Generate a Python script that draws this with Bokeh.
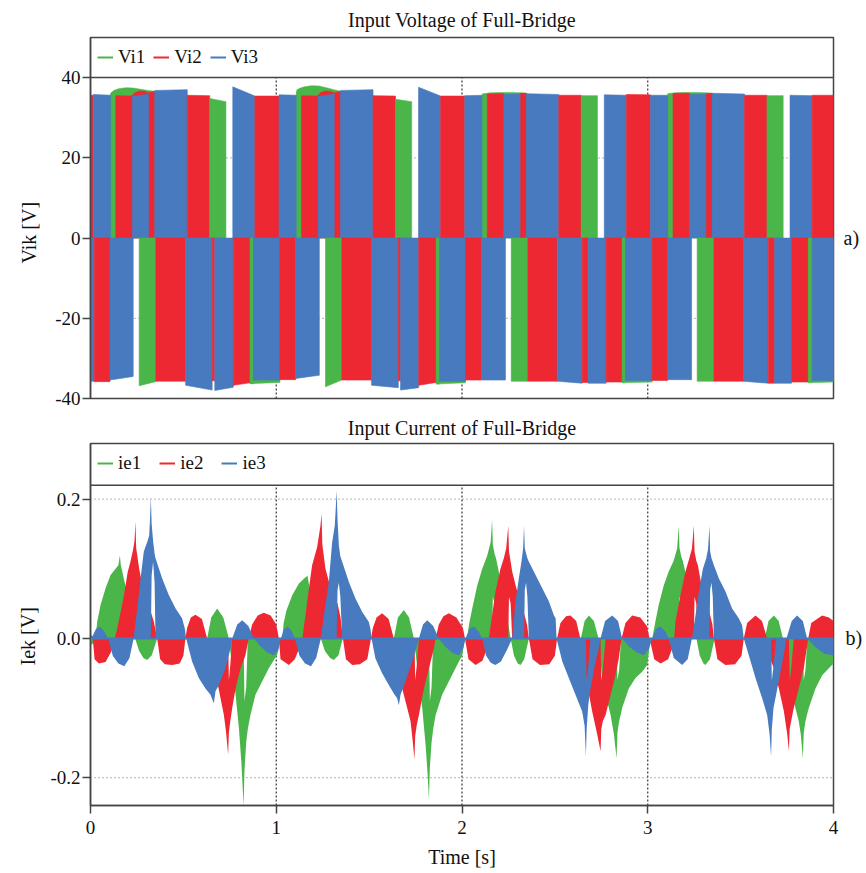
import numpy as np
from bokeh.plotting import figure
from bokeh.layouts import column
from bokeh.models import (Range1d, Span, Legend, LegendItem, FixedTicker, LinearAxis, Title,
                          NumeralTickFormatter, ColumnDataSource)
from bokeh.embed import file_html
from bokeh.resources import INLINE

FONT = "Liberation Serif"
AXIS_COLOR = "#444444"
TEXT_COLOR = "#111111"
SERIES_COLORS = {1: "#4AB649", 2: "#ED2833", 3: "#477ABE"}

# ---------------------------------------------------------------- axes
x_ticks = [0, 1, 2, 3, 4]
v_ticks = [-40, -20, 0, 20, 40]
i_ticks = [-0.2, 0.0, 0.2]
v_names = ["Vi1", "Vi2", "Vi3"]
i_names = ["ie1", "ie2", "ie3"]

# ---------------------------------------------------------------- panel a)
# Switching blocks of the full-bridge input voltages (series id 1..3),
# positive half: start, end, level at start, level at end
pos_t0 = [0.000, 0.015, 0.111, 0.136, 0.225, 0.316, 0.346, 0.521, 0.642, 0.766, 0.885,
          1.015, 1.111, 1.136, 1.225, 1.316, 1.346, 1.521, 1.642, 1.766, 1.885,
          2.015, 2.111, 2.136, 2.225, 2.316, 2.346, 2.521, 2.642, 2.766, 2.885,
          3.015, 3.111, 3.136, 3.225, 3.316, 3.346, 3.521, 3.642, 3.766, 3.885]
pos_t1 = [0.015, 0.111, 0.136, 0.225, 0.316, 0.346, 0.521, 0.642, 0.729, 0.885, 1.015,
          1.111, 1.136, 1.225, 1.316, 1.346, 1.521, 1.642, 1.729, 1.885, 2.015,
          2.111, 2.136, 2.225, 2.316, 2.346, 2.521, 2.642, 2.729, 2.885, 3.015,
          3.111, 3.136, 3.225, 3.316, 3.346, 3.521, 3.642, 3.729, 3.885, 4.000]
pos_series = [2, 3, 1, 2, 3, 2, 3, 2, 1, 3, 2,
              3, 1, 2, 3, 2, 3, 2, 1, 3, 2,
              3, 1, 2, 3, 2, 3, 2, 1, 3, 2,
              3, 1, 2, 3, 2, 3, 2, 1, 3, 2]
pos_v0 = [35.6, 35.8, 36.2, 35.5, 35.3, 36.3, 36.8, 35.6, 34.8, 37.7, 35.4,
          35.7, 37.0, 35.5, 35.3, 36.3, 36.8, 35.5, 34.6, 37.6, 35.4,
          35.5, 35.8, 35.9, 35.8, 36.1, 36.0, 35.6, 35.5, 35.7, 35.8,
          35.6, 35.9, 36.1, 35.8, 36.0, 36.1, 35.6, 35.5, 35.6, 35.6]
pos_v1 = [35.6, 35.6, 36.8, 35.4, 35.9, 36.6, 37.0, 35.5, 34.0, 35.4, 35.4,
          35.6, 37.4, 35.4, 35.9, 36.6, 37.0, 35.4, 34.0, 35.4, 35.4,
          35.6, 35.9, 36.0, 35.9, 36.1, 35.8, 35.6, 35.5, 35.6, 35.7,
          35.6, 36.0, 36.1, 35.9, 36.1, 35.9, 35.6, 35.5, 35.5, 35.6]

# negative half
neg_t0 = [0.000, 0.020, 0.105, 0.262, 0.351, 0.512, 0.655, 0.669, 0.769, 0.859, 0.877, 1.020, 1.105,
          1.265, 1.352, 1.513, 1.657, 1.669, 1.767, 1.861, 1.879, 2.019, 2.105,
          2.265, 2.354, 2.513, 2.647, 2.679, 2.776, 2.862, 2.880, 3.024, 3.108,
          3.266, 3.356, 3.517, 3.649, 3.683, 3.774, 3.864, 3.885]
neg_t1 = [0.020, 0.105, 0.230, 0.351, 0.512, 0.655, 0.669, 0.769, 0.859, 0.877, 1.020, 1.105, 1.232,
          1.352, 1.513, 1.657, 1.669, 1.767, 1.861, 1.879, 2.019, 2.105, 2.234,
          2.354, 2.513, 2.647, 2.679, 2.776, 2.862, 2.880, 3.024, 3.108, 3.236,
          3.356, 3.517, 3.649, 3.683, 3.774, 3.864, 3.885, 4.000]
neg_series = [3, 2, 3, 1, 2, 3, 2, 3, 2, 1, 3, 2, 3,
              1, 2, 3, 2, 3, 2, 1, 3, 2, 3,
              1, 2, 3, 2, 3, 2, 1, 3, 2, 3,
              1, 2, 3, 2, 3, 2, 1, 3]
neg_v0 = [-35.7, -35.8, -35.4, -36.8, -35.7, -36.7, -35.6, -38.0, -36.7, -36.3, -35.4, -35.3, -35.0,
          -37.1, -35.4, -36.7, -35.6, -37.9, -36.7, -36.4, -35.7, -35.4, -35.4,
          -35.7, -35.7, -35.7, -36.0, -36.2, -35.9, -35.9, -35.5, -35.5, -35.3,
          -35.7, -35.7, -35.7, -36.2, -36.2, -35.9, -35.9, -35.5]
neg_v1 = [-35.7, -35.8, -34.5, -35.8, -35.7, -37.9, -35.6, -37.2, -36.1, -36.3, -35.4, -35.3, -34.2,
          -35.4, -35.4, -37.3, -35.6, -37.3, -36.0, -36.4, -35.7, -35.4, -35.4,
          -35.7, -35.7, -36.2, -36.0, -36.2, -35.9, -35.9, -35.5, -35.5, -35.3,
          -35.7, -35.7, -36.2, -36.2, -36.2, -35.9, -35.9, -35.5]

# envelope of Vi1 / Vi2 showing above the later-drawn blocks
vi1_hump_t = [[0.108, 0.125, 0.150, 0.190, 0.230, 0.270, 0.310, 0.346],
              [1.108, 1.125, 1.150, 1.190, 1.230, 1.270, 1.310, 1.346],
              [2.108, 2.150, 2.200, 2.260, 2.320, 2.350],
              [3.108, 3.150, 3.200, 3.260, 3.320, 3.350]]
vi1_hump_v = [[36.0, 36.8, 37.2, 37.5, 37.4, 37.1, 36.8, 36.6],
              [36.4, 37.3, 37.7, 38.0, 37.9, 37.5, 37.0, 36.6],
              [35.9, 36.2, 36.3, 36.3, 36.2, 36.1],
              [36.0, 36.2, 36.3, 36.3, 36.2, 36.1]]
vi2_hump_t = [[0.222, 0.240, 0.265, 0.290, 0.310, 0.325],
              [1.222, 1.240, 1.265, 1.290, 1.310, 1.325]]
vi2_hump_v = [[35.5, 36.3, 36.65, 36.6, 36.3, 35.8],
              [35.5, 36.3, 36.65, 36.6, 36.3, 35.8]]
vi1_trough_t = [[0.859, 1.020], [1.861, 2.019], [2.862, 3.024], [3.864, 4.000]]
vi1_trough_v = [[-36.3, -36.0], [-36.4, -36.1], [-36.1, -35.9], [-36.1, -35.9]]

# ---------------------------------------------------------------- panel b)
# PWM current envelopes: time, lower edge, upper edge of the ripple band
ie1_t = [
    0.000, 0.020, 0.027, 0.036, 0.054, 0.081, 0.108, 0.135, 0.150, 0.158,
    0.163, 0.176, 0.200, 0.222, 0.240, 0.262, 0.285, 0.305, 0.330, 0.359,
    0.628, 0.650, 0.682, 0.715, 0.745, 0.763, 0.781, 0.799, 0.813, 0.824,
    0.829, 0.838, 0.847, 0.861, 0.888, 0.924, 0.960, 0.990, 1.005, 1.020,
    1.032, 1.040, 1.055, 1.086, 1.122, 1.150, 1.168, 1.178, 1.200, 1.222,
    1.240, 1.262, 1.290, 1.310, 1.335, 1.358, 1.633, 1.655, 1.687, 1.715,
    1.741, 1.768, 1.786, 1.804, 1.815, 1.822, 1.827, 1.836, 1.845, 1.858,
    1.893, 1.929, 1.965, 2.001, 2.016,
    2.028, 2.037, 2.055, 2.082, 2.109, 2.136, 2.154, 2.162, 2.166, 2.175,
    2.183, 2.195, 2.215, 2.240, 2.262, 2.280, 2.300, 2.315, 2.335, 2.360,
    2.640, 2.660, 2.683, 2.710, 2.735, 2.755, 2.773, 2.800, 2.818, 2.832,
    2.837, 2.846, 2.856, 2.862, 2.898, 2.934, 2.970, 2.997, 3.015,
    3.024, 3.041, 3.059, 3.086, 3.113, 3.140, 3.158, 3.167, 3.171, 3.180,
    3.188, 3.203, 3.222, 3.245, 3.262, 3.280, 3.300, 3.310, 3.335, 3.360,
    3.630, 3.650, 3.679, 3.705, 3.728, 3.741, 3.768, 3.795, 3.813, 3.824,
    3.835, 3.840, 3.849, 3.859, 3.867, 3.903, 3.939, 3.975, 4.000,
]
ie1_lo = [
    -0.010, -0.006, 0, 0, 0, 0, 0, 0, 0, 0,
    0, 0, 0, 0, 0, -0.018, -0.028, -0.031, -0.024, 0,
    0, 0, 0, 0, 0, -0.043, -0.081, -0.129, -0.181, -0.241,
    -0.190, -0.150, -0.130, -0.110, -0.081, -0.062, -0.043, -0.030, -0.024, 0,
    0, 0, 0, 0, 0, 0, 0, 0, 0, 0,
    0, -0.018, -0.028, -0.031, -0.024, 0, 0, 0, 0, 0,
    0, -0.062, -0.100, -0.153, -0.196, -0.232, -0.185, -0.150, -0.130, -0.110,
    -0.081, -0.062, -0.043, -0.024, 0,
    0, 0, 0, 0, 0, 0, 0, 0, 0.060, 0.050,
    0, 0, 0, 0, 0, -0.025, -0.036, -0.038, -0.030, 0,
    0, 0, 0, 0, 0, -0.060, -0.081, -0.110, -0.138, -0.172,
    -0.135, -0.119, -0.108, -0.100, -0.072, -0.057, -0.048, -0.038, 0,
    0, 0, 0, 0, 0, 0, 0, 0, 0.060, 0.050,
    0, 0, 0, 0, 0, -0.025, -0.036, -0.038, -0.030, 0,
    0, 0, 0, 0, 0, -0.043, -0.072, -0.100, -0.119, -0.138,
    -0.172, -0.135, -0.119, -0.108, -0.100, -0.072, -0.053, -0.043, -0.036,
]
ie1_hi = [
    0, 0, 0, 0.024, 0.048, 0.072, 0.091, 0.100, 0.105, 0.119,
    0.106, 0.090, 0.062, 0.030, 0, 0, 0, 0, 0, 0,
    0, 0.030, 0.043, 0.030, 0, 0, 0, 0, 0, 0,
    -0.090, -0.070, 0, 0, 0, 0, 0, 0, 0, 0,
    0, 0.022, 0.040, 0.062, 0.079, 0.086, 0.090, 0.075, 0.050, 0.025,
    0, 0, 0, 0, 0, 0, 0, 0.030, 0.041, 0.030,
    0, 0, 0, 0, 0, 0, -0.090, -0.070, 0, 0,
    0, 0, 0, 0, 0,
    0, 0.019, 0.043, 0.076, 0.100, 0.119, 0.138, 0.170, 0.135, 0.122,
    0.115, 0.100, 0.070, 0.035, 0, 0, 0, 0, 0, 0,
    0, 0.025, 0.033, 0.025, 0, 0, 0, 0, 0, 0,
    -0.060, -0.045, 0, 0, 0, 0, 0, 0, 0,
    0, 0.024, 0.048, 0.076, 0.096, 0.112, 0.129, 0.161, 0.130, 0.118,
    0.112, 0.095, 0.065, 0.030, 0, 0, 0, 0, 0, 0,
    0, 0.025, 0.033, 0.025, 0, 0, 0, 0, 0, 0,
    0, -0.060, -0.045, 0, 0, 0, 0, 0, 0,
]

ie2_t = [
    0.000, 0.012, 0.022, 0.045, 0.081, 0.110, 0.130, 0.140, 0.160, 0.180,
    0.200, 0.215, 0.228, 0.237, 0.242, 0.246, 0.262, 0.280, 0.300, 0.320,
    0.340, 0.359, 0.375, 0.400, 0.440, 0.480, 0.500, 0.511, 0.520, 0.540,
    0.565, 0.600, 0.628, 0.650, 0.682, 0.700, 0.718, 0.730, 0.741, 0.745,
    0.752, 0.763, 0.781, 0.808, 0.834, 0.852, 0.870, 0.900, 0.933, 0.970,
    1.000, 1.014,
    1.023, 1.068, 1.100, 1.130, 1.140, 1.157, 1.175, 1.193, 1.220, 1.238,
    1.244, 1.248, 1.265, 1.285, 1.310, 1.330, 1.346, 1.359, 1.375, 1.409,
    1.450, 1.490, 1.510, 1.520, 1.540, 1.570, 1.605, 1.633, 1.660, 1.678,
    1.705, 1.723, 1.735, 1.744, 1.748, 1.756, 1.768, 1.795, 1.822, 1.849,
    1.858, 1.875, 1.900, 1.929, 1.970, 2.005, 2.016,
    2.035, 2.073, 2.110, 2.135, 2.144, 2.162, 2.180, 2.207, 2.225, 2.238,
    2.249, 2.253, 2.262, 2.270, 2.290, 2.310, 2.330, 2.350, 2.360, 2.380,
    2.420, 2.470, 2.500, 2.512, 2.530, 2.560, 2.584, 2.615, 2.637, 2.660,
    2.680, 2.701, 2.728, 2.746, 2.750, 2.758, 2.773, 2.800, 2.826, 2.844,
    2.859, 2.880, 2.916, 2.960, 2.995, 3.010,
    3.035, 3.069, 3.110, 3.135, 3.142, 3.149, 3.176, 3.203, 3.224, 3.238,
    3.248, 3.252, 3.261, 3.270, 3.290, 3.310, 3.330, 3.348, 3.356, 3.375,
    3.418, 3.470, 3.505, 3.517, 3.535, 3.580, 3.615, 3.643, 3.660, 3.679,
    3.706, 3.733, 3.751, 3.760, 3.764, 3.772, 3.786, 3.813, 3.840, 3.864,
    3.880, 3.939, 3.975, 4.000,
]
ie2_lo = [
    0, 0, -0.030, -0.036, -0.034, -0.020, 0, 0, 0, 0,
    0, 0, 0, 0, 0, 0, 0, 0, 0, 0,
    0, 0, -0.030, -0.037, -0.038, -0.036, -0.025, 0, 0, 0,
    0, 0, 0, -0.035, -0.062, -0.086, -0.110, -0.135, -0.167, -0.135,
    -0.120, -0.100, -0.072, -0.043, -0.024, 0, 0, 0, 0, 0,
    0, 0,
    -0.030, -0.038, -0.030, -0.010, 0, 0, 0, 0, 0, 0,
    0, 0, 0, 0, 0, 0, 0, 0, -0.030, -0.038,
    -0.037, -0.030, 0, 0, 0, 0, 0, 0, -0.045, -0.072,
    -0.100, -0.119, -0.148, -0.174, -0.140, -0.125, -0.110, -0.072, -0.043, -0.014,
    0, 0, 0, 0, 0, 0, 0,
    -0.030, -0.038, -0.032, -0.015, 0, 0, 0, 0, 0, 0,
    0, 0.060, 0.050, 0, 0, 0, 0, 0, 0, -0.030,
    -0.038, -0.037, -0.025, 0, 0, 0, 0, 0, 0, -0.045,
    -0.075, -0.105, -0.138, -0.162, -0.130, -0.119, -0.110, -0.081, -0.053, -0.029,
    0, 0, 0, 0, 0, 0,
    -0.030, -0.036, -0.030, -0.012, 0, 0, 0, 0, 0, 0,
    0, 0.060, 0.050, 0, 0, 0, 0, 0, 0, -0.030,
    -0.038, -0.037, -0.025, 0, 0, 0, 0, 0, -0.030, -0.043,
    -0.072, -0.105, -0.138, -0.162, -0.130, -0.119, -0.100, -0.072, -0.043, 0,
    0, 0, 0, 0,
]
ie2_hi = [
    0.008, 0, 0, 0, 0, 0, 0, 0.010, 0.035, 0.062,
    0.095, 0.110, 0.126, 0.140, 0.168, 0.130, 0.100, 0.075, 0.055, 0.042,
    0.025, 0, 0, 0, 0, 0, 0, 0, 0.015, 0.030,
    0.034, 0.028, 0, 0, 0, 0, 0, 0, 0, -0.060,
    -0.040, 0, 0, 0, 0, 0, 0.020, 0.033, 0.037, 0.033,
    0.020, 0,
    0, 0, 0, 0, 0, 0.033, 0.070, 0.105, 0.131, 0.162,
    0.179, 0.135, 0.100, 0.080, 0.060, 0.050, 0.030, 0, 0, 0,
    0, 0, 0, 0.015, 0.030, 0.036, 0.028, 0, 0, 0,
    0, 0, 0, 0, -0.060, -0.040, 0, 0, 0, 0,
    0, 0.020, 0.032, 0.036, 0.030, 0.015, 0,
    0, 0, 0, 0, 0, 0.033, 0.067, 0.100, 0.115, 0.129,
    0.162, 0.125, 0.110, 0.096, 0.075, 0.055, 0.040, 0.020, 0, 0,
    0, 0, 0, 0, 0.022, 0.032, 0.033, 0.025, 0, 0,
    0, 0, 0, 0, -0.060, -0.045, 0, 0, 0, 0,
    0, 0.022, 0.033, 0.030, 0.018, 0,
    0, 0, 0, 0, 0, 0.024, 0.062, 0.096, 0.115, 0.129,
    0.162, 0.125, 0.112, 0.105, 0.075, 0.055, 0.040, 0.020, 0, 0,
    0, 0, 0, 0, 0.022, 0.033, 0.025, 0, 0, 0,
    0, 0, 0, 0, -0.060, -0.045, 0, 0, 0, 0,
    0.022, 0.033, 0.030, 0.025,
]

ie3_t = [
    0.000, 0.012, 0.030, 0.050, 0.075, 0.095, 0.120, 0.150, 0.182, 0.210,
    0.232, 0.250, 0.269, 0.287, 0.305, 0.316, 0.321, 0.325, 0.329, 0.337,
    0.345, 0.350, 0.386, 0.422, 0.458, 0.493, 0.508, 0.515, 0.547, 0.583,
    0.619, 0.646, 0.664, 0.673, 0.691, 0.727, 0.754, 0.763, 0.790, 0.817,
    0.850, 0.880, 0.910, 0.950, 0.985, 1.010, 1.025,
    1.040, 1.060, 1.080, 1.100, 1.125, 1.155, 1.187, 1.215, 1.240, 1.260,
    1.283, 1.301, 1.315, 1.320, 1.325, 1.330, 1.337, 1.345, 1.355, 1.391,
    1.427, 1.463, 1.498, 1.507, 1.513, 1.534, 1.570, 1.606, 1.633, 1.651,
    1.660, 1.669, 1.696, 1.732, 1.764, 1.768, 1.790, 1.813, 1.845, 1.875,
    1.910, 1.950, 1.983, 2.005, 2.019,
    2.040, 2.064, 2.090, 2.109, 2.130, 2.155, 2.180, 2.210, 2.245, 2.270,
    2.288, 2.306, 2.320, 2.329, 2.334, 2.338, 2.345, 2.352, 2.360, 2.396,
    2.432, 2.468, 2.495, 2.504, 2.509, 2.540, 2.575, 2.611, 2.647, 2.660,
    2.667, 2.671, 2.680, 2.692, 2.719, 2.737, 2.746, 2.770, 2.809, 2.840,
    2.862, 2.900, 2.940, 2.979, 3.006, 3.024,
    3.045, 3.069, 3.095, 3.113, 3.140, 3.185, 3.215, 3.238, 3.257, 3.275,
    3.297, 3.315, 3.325, 3.332, 3.336, 3.343, 3.350, 3.356, 3.383, 3.419,
    3.454, 3.490, 3.508, 3.517, 3.544, 3.580, 3.616, 3.643, 3.656, 3.664,
    3.668, 3.677, 3.691, 3.715, 3.738, 3.747, 3.775, 3.804, 3.835, 3.858,
    3.900, 3.950, 4.000,
]
ie3_lo = [
    0, 0, 0, 0, 0, 0, -0.025, -0.036, -0.040, -0.028,
    0, 0, 0, 0, 0, 0, 0, 0, 0.090, 0.110,
    0.080, 0, 0, 0, 0, 0, 0, 0, -0.033, -0.057,
    -0.072, -0.081, -0.093, -0.076, -0.067, -0.043, -0.014, 0, 0, 0,
    0, 0, -0.010, -0.020, -0.024, -0.018, 0,
    0, 0, 0, 0, -0.025, -0.036, -0.040, -0.028, 0, 0,
    0, 0, 0, 0, 0, 0.070, 0.080, 0.060, 0, 0,
    0, 0, 0, 0, 0, -0.029, -0.050, -0.067, -0.079, -0.086,
    -0.096, -0.081, -0.062, -0.033, -0.005, 0, 0, 0, 0, 0,
    -0.012, -0.021, -0.024, -0.016, 0,
    0, 0, 0, 0, -0.025, -0.035, -0.038, -0.033, -0.015, 0,
    0, 0, 0, 0, 0, 0.070, 0.080, 0.060, 0, 0,
    0, 0, 0, 0, 0, -0.033, -0.057, -0.081, -0.105, -0.125,
    -0.170, -0.130, -0.095, -0.072, -0.033, -0.014, 0, 0, 0, 0,
    0, -0.012, -0.020, -0.024, -0.015, 0,
    0, 0, 0, 0, -0.028, -0.038, -0.030, 0, 0, 0,
    0, 0, 0, 0, 0.070, 0.080, 0.060, 0, 0, 0,
    0, 0, 0, 0, -0.024, -0.057, -0.086, -0.110, -0.138, -0.170,
    -0.130, -0.100, -0.081, -0.048, -0.014, 0, 0, 0, 0, 0,
    -0.012, -0.022, -0.024,
]
ie3_hi = [
    0, 0.004, 0.014, 0.017, 0.010, 0, 0, 0, 0, 0,
    0, 0.040, 0.085, 0.125, 0.138, 0.148, 0.175, 0.204, 0.165, 0.140,
    0.122, 0.115, 0.086, 0.062, 0.043, 0.029, 0.014, 0, 0, 0,
    0, 0, 0, 0, 0, 0, 0, 0, 0.020, 0.026,
    0.018, 0, 0, 0, 0, 0, 0,
    0.012, 0.017, 0.012, 0, 0, 0, 0, 0, 0, 0.040,
    0.081, 0.138, 0.162, 0.185, 0.213, 0.170, 0.134, 0.118, 0.110, 0.081,
    0.057, 0.038, 0.024, 0.014, 0, 0, 0, 0, 0, 0,
    0, 0, 0, 0, 0, 0, 0.020, 0.026, 0.018, 0,
    0, 0, 0, 0, 0,
    0.014, 0.017, 0.010, 0, 0, 0, 0, 0, 0, 0,
    0.053, 0.086, 0.110, 0.129, 0.162, 0.130, 0.122, 0.115, 0.110, 0.091,
    0.072, 0.053, 0.033, 0.029, 0, 0, 0, 0, 0, 0,
    0, -0.060, -0.040, 0, 0, 0, 0, 0.025, 0.033, 0.025,
    0, 0, 0, 0, 0, 0,
    0.014, 0.017, 0.010, 0, 0, 0, 0, 0, 0.033, 0.067,
    0.100, 0.115, 0.129, 0.162, 0.125, 0.115, 0.110, 0.105, 0.086, 0.067,
    0.043, 0.029, 0.019, 0, 0, 0, 0, 0, 0, 0,
    -0.060, -0.040, 0, 0, 0, 0, 0.025, 0.033, 0.025, 0,
    0, 0, 0,
]

for name, arrs in {"ie1": (ie1_t, ie1_lo, ie1_hi), "ie2": (ie2_t, ie2_lo, ie2_hi),
                   "ie3": (ie3_t, ie3_lo, ie3_hi)}.items():
    assert len(arrs[0]) == len(arrs[1]) == len(arrs[2]), (name, [len(a) for a in arrs])


def base_figure(height, border_top, border_bottom, y_start, y_end, title, title_standoff):
    p = figure(width=866, height=height, output_backend="svg", toolbar_location=None,
               x_range=Range1d(0, 4), y_range=Range1d(y_start, y_end),
               min_border_left=90, min_border_right=33,
               min_border_top=border_top, min_border_bottom=border_bottom,
               background_fill_color="white", border_fill_color="white")
    p.title.text = title
    p.title.align = "center"
    p.title.text_font = FONT
    p.title.text_font_size = "20px"
    p.title.text_font_style = "normal"
    p.title.text_color = TEXT_COLOR
    p.title.standoff = title_standoff
    p.xgrid.visible = False
    p.ygrid.visible = False
    p.outline_line_color = AXIS_COLOR
    p.outline_line_width = 1.5
    p.outline_line_alpha = 1.0
    for ax in p.axis:
        ax.axis_line_color = AXIS_COLOR
        ax.axis_line_width = 1.5
        ax.major_tick_line_color = AXIS_COLOR
        ax.major_tick_line_width = 1.5
        ax.major_tick_in = 0
        ax.major_tick_out = 8
        ax.minor_tick_line_color = None
        ax.major_label_text_font = FONT
        ax.major_label_text_font_size = "19px"
        ax.major_label_text_color = TEXT_COLOR
        ax.major_label_standoff = 2
    p.xaxis.ticker = FixedTicker(ticks=x_ticks)
    return p


def add_grid(p, y_bottom, y_top, h_lines):
    inner = x_ticks[1:-1]
    p.segment(x0=[0] * len(h_lines), x1=[x_ticks[-1]] * len(h_lines), y0=h_lines, y1=h_lines,
              line_color="#8a8a8a", line_dash="1 3", line_width=1.2)
    p.segment(x0=inner, x1=inner, y0=[y_bottom] * len(inner), y1=[y_top] * len(inner),
              line_color="#333333", line_dash="2 2", line_width=1.2)


def add_legend(p, names, spacing):
    items = []
    for k, name in enumerate(names, start=1):
        # legend key only: a single undefined point, nothing drawn in the frame
        r = p.line(x=[np.nan], y=[np.nan], line_color=SERIES_COLORS[k], line_width=2)
        items.append(LegendItem(label=name, renderers=[r]))
    legend = Legend(items=items, location="top_left", orientation="horizontal",
                    margin=0, padding=7, spacing=spacing, glyph_width=16, glyph_height=26,
                    label_height=26, label_standoff=5, label_text_font=FONT,
                    label_text_font_size="19px", label_text_color=TEXT_COLOR,
                    background_fill_alpha=0, border_line_alpha=0)
    p.add_layout(legend)


def side_labels(p, ylabel, label_offset, label_standoff, tag, tag_standoff):
    p.add_layout(Title(text=ylabel, align="left", offset=label_offset, standoff=label_standoff,
                       text_font=FONT, text_font_size="20px", text_font_style="normal",
                       text_color=TEXT_COLOR), "left")
    tag_axis = LinearAxis(ticker=FixedTicker(ticks=[0]), major_label_overrides={0: tag},
                          axis_line_color=None, major_tick_line_color=None,
                          minor_tick_line_color=None, major_tick_in=0, major_tick_out=0,
                          major_label_standoff=tag_standoff, major_label_text_font=FONT,
                          major_label_text_font_size="20px", major_label_text_color=TEXT_COLOR)
    p.add_layout(tag_axis, "right")


def blocks(t0, t1, v0, v1, series):
    xs, ys, cs = [], [], []
    for a, b, h0, h1, s in zip(t0, t1, v0, v1, series):
        xs.append([a, a, b, b])
        ys.append([0, h0, h1, 0])
        cs.append(SERIES_COLORS[s])
    return ColumnDataSource(dict(xs=xs, ys=ys, color=cs))


def humps(ts, vs):
    return [[t[0]] + list(t) + [t[-1]] for t in ts], [[0] + list(v) + [0] for v in vs]


# ---------------------------------------------------------------- panel a)
pa = base_figure(410, 37, 12, -40, 50, "Input Voltage of Full-Bridge", 13)
pa.xaxis.visible = False
pa.yaxis.ticker = FixedTicker(ticks=v_ticks)
pa.yaxis.formatter = NumeralTickFormatter(format="0")
add_grid(pa, v_ticks[0], v_ticks[-1], [v_ticks[1], v_ticks[3]])

hx, hy = humps(vi1_hump_t, vi1_hump_v)
pa.patches(hx, hy, fill_color=SERIES_COLORS[1], line_color=SERIES_COLORS[1], line_width=0.5)
tx, ty = humps(vi1_trough_t, vi1_trough_v)
pa.patches(tx, ty, fill_color=SERIES_COLORS[1], line_color=SERIES_COLORS[1], line_width=0.5)
hx, hy = humps(vi2_hump_t, vi2_hump_v)
pa.patches(hx, hy, fill_color=SERIES_COLORS[2], line_color=SERIES_COLORS[2], line_width=0.5)

for src in (blocks(pos_t0, pos_t1, pos_v0, pos_v1, pos_series),
            blocks(neg_t0, neg_t1, neg_v0, neg_v1, neg_series)):
    pa.patches("xs", "ys", fill_color="color", line_color="color", line_width=0.6, source=src)

pa.add_layout(Span(location=v_ticks[-1], dimension="width", line_color=AXIS_COLOR, line_width=1.5))
add_legend(pa, v_names, 8)
side_labels(pa, "Vik [V]", 135, 25, "a)", 10)

# ---------------------------------------------------------------- panel b)
pb = base_figure(463, 33, 68, -0.24, 0.28, "Input Current of Full-Bridge", 9)
pb.yaxis.ticker = FixedTicker(ticks=i_ticks)
pb.yaxis.formatter = NumeralTickFormatter(format="0.0")
pb.xaxis.formatter = NumeralTickFormatter(format="0")
pb.xaxis.axis_label = "Time [s]"
pb.xaxis.axis_label_text_font = FONT
pb.xaxis.axis_label_text_font_size = "20px"
pb.xaxis.axis_label_text_font_style = "normal"
pb.xaxis.axis_label_text_color = TEXT_COLOR
pb.xaxis.axis_label_standoff = 9
pb.xaxis.major_label_standoff = 7
add_grid(pb, -0.24, 0.22, [i_ticks[0], i_ticks[2]])

for k, (t, lo, hi) in enumerate([(ie1_t, ie1_lo, ie1_hi), (ie2_t, ie2_lo, ie2_hi),
                                 (ie3_t, ie3_lo, ie3_hi)], start=1):
    pb.varea(x=t, y1=lo, y2=hi, fill_color=SERIES_COLORS[k])

pb.add_layout(Span(location=0, dimension="width", line_color=SERIES_COLORS[3], line_width=2))
pb.add_layout(Span(location=0.22, dimension="width", line_color=AXIS_COLOR, line_width=1.5))
add_legend(pb, i_names, 18)
side_labels(pb, "Iek [V]", 140, 18, "b)", 12)

layout = column(pa, pb, spacing=0)
open("out.html", "w").write(file_html(layout, INLINE))
